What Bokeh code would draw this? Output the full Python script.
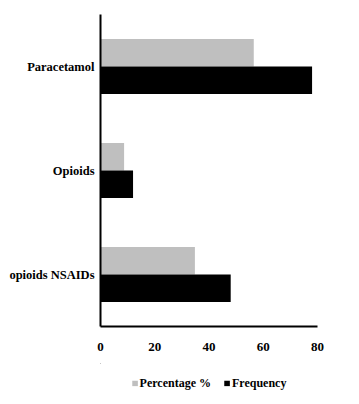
from bokeh.plotting import figure
from bokeh.layouts import column
from bokeh.models import ColumnDataSource, FactorRange, Range1d, FixedTicker, Legend, LegendItem
from bokeh.transform import dodge
from bokeh.embed import file_html
from bokeh.resources import INLINE

categories = ["opioids NSAIDs", "Opioids", "Paracetamol"]
percentage = [34.8, 8.7, 56.5]
frequency = [48, 12, 78]
x_ticks = [0, 20, 40, 60, 80]
series_names = ["Percentage %", "Frequency"]
series_colors = ["#bfbfbf", "#000000"]

source = ColumnDataSource(data=dict(cat=categories, pct=percentage, freq=frequency))

FONT = "Liberation Serif"

p = figure(y_range=FactorRange(*categories, range_padding=0),
           x_range=Range1d(0, 80),
           frame_width=217, frame_height=312,
           output_backend="svg", toolbar_location=None,
           min_border_top=14, min_border_right=22, min_border_left=100, min_border_bottom=0,
           outline_line_color=None, background_fill_color="white")

r1 = p.hbar(y=dodge("cat", 0.1325, range=p.y_range), right="pct", height=0.265,
            left=0, source=source, color=series_colors[0], line_color=None)
r2 = p.hbar(y=dodge("cat", -0.1325, range=p.y_range), right="freq", height=0.265,
            left=0, source=source, color=series_colors[1], line_color=None)

p.xgrid.visible = False
p.ygrid.visible = False

for ax in (p.xaxis[0], p.yaxis[0]):
    ax.axis_line_color = "black"
    ax.axis_line_width = 2
    ax.major_tick_line_color = None
    ax.minor_tick_line_color = None
    ax.major_tick_out = 0
    ax.major_tick_in = 0
    ax.minor_tick_out = 0
    ax.axis_label = None
    ax.axis_label_standoff = 0
    ax.major_label_text_font = FONT
    ax.major_label_text_font_style = "bold"
    ax.major_label_text_font_size = "13px"
    ax.major_label_text_color = "black"

p.yaxis[0].major_label_text_font_size = "12.5px"
p.xaxis[0].ticker = FixedTicker(ticks=x_ticks)
p.xaxis[0].major_label_standoff = 16
p.yaxis[0].major_label_standoff = 6

# legend figure (its renderers lie far outside its ranges; only the legend shows)
p2 = figure(y_range=FactorRange(*categories), x_range=Range1d(1000, 1001),
            frame_width=217, frame_height=40,
            output_backend="svg", toolbar_location=None,
            x_axis_location=None, y_axis_location=None,
            min_border_top=10, min_border_right=22, min_border_left=100, min_border_bottom=0,
            outline_line_color=None, background_fill_color="white")
p2.grid.visible = False
l1 = p2.hbar(y=dodge("cat", 100, range=p2.y_range), right="pct", height=0.265, left=0,
             source=source, color=series_colors[0], line_color=None)
l2 = p2.hbar(y=dodge("cat", 100, range=p2.y_range), right="freq", height=0.265, left=0,
             source=source, color=series_colors[1], line_color=None)

legend = Legend(items=[LegendItem(label=series_names[0], renderers=[l1]),
                       LegendItem(label=series_names[1], renderers=[l2])],
                orientation="horizontal", location="center",
                label_text_font=FONT, label_text_font_style="bold",
                label_text_font_size="12px", label_text_color="black",
                glyph_width=7, glyph_height=7, label_standoff=2, spacing=12,
                label_height=14,
                border_line_color=None, background_fill_alpha=0,
                margin=0, padding=0)
p2.add_layout(legend, "center")

layout = column(p, p2, spacing=0)
open("out.html", "w").write(file_html(layout, INLINE))
